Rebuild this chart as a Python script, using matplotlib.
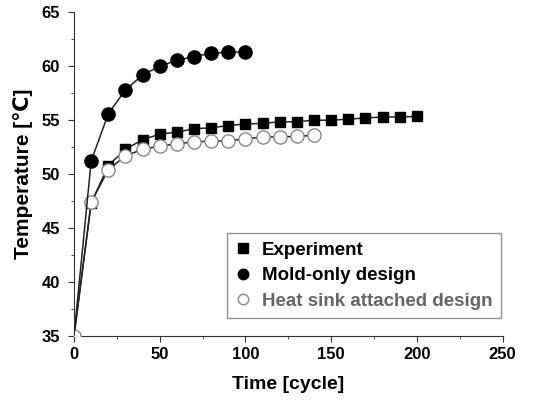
import matplotlib
matplotlib.use('Agg')
import matplotlib.pyplot as plt
from matplotlib.ticker import MultipleLocator

plt.rcParams['font.family'] = ['Liberation Sans', 'DejaVu Sans']
plt.rcParams['font.weight'] = 'bold'

# data (first point is the common start at t=0)
exp_x = [0, 10, 20, 30, 40, 50, 60, 70, 80, 90, 100, 110, 120, 130, 140,
         150, 160, 170, 180, 190, 200]
exp_y = [35.0, 47.3, 50.8, 52.3, 53.2, 53.7, 53.9, 54.2, 54.3, 54.5, 54.65,
         54.7, 54.85, 54.85, 55.0, 55.0, 55.1, 55.2, 55.3, 55.3, 55.35]

mold_x = [0, 10, 20, 30, 40, 50, 60, 70, 80, 90, 100]
mold_y = [35.0, 51.2, 55.6, 57.8, 59.2, 60.0, 60.55, 60.9, 61.2, 61.3, 61.35]

sink_x = [0, 10, 20, 30, 40, 50, 60, 70, 80, 90, 100, 110, 120, 130, 140]
sink_y = [35.0, 47.4, 50.4, 51.7, 52.3, 52.6, 52.8, 53.0, 53.05, 53.1, 53.25,
          53.45, 53.45, 53.5, 53.6]

labels = ['Experiment', 'Mold-only design', 'Heat sink attached design']

fig = plt.figure(figsize=(5.34, 4.03), dpi=100)
ax = fig.add_axes([0.1386, 0.1663, 0.8027, 0.8032])

line_col = '#222222'
ax.plot(exp_x, exp_y, color=line_col, lw=1.1, marker='s', ms=7.5,
        mfc='black', mec='black', markevery=slice(1, None), label=labels[0], zorder=2)
ax.plot(sink_x, sink_y, color=line_col, lw=1.1, marker='o', ms=9.5,
        mfc='white', mec='#888888', mew=1.0, label=labels[2], zorder=3)
ax.plot(mold_x, mold_y, color=line_col, lw=1.1, marker='o', ms=9.5,
        mfc='black', mec='black', markevery=slice(1, None), label=labels[1], zorder=3)

ax.set_xlim(0, 250)
ax.set_ylim(35, 65)
ax.xaxis.set_major_locator(MultipleLocator(50))
ax.xaxis.set_minor_locator(MultipleLocator(25))
ax.yaxis.set_major_locator(MultipleLocator(5))
ax.yaxis.set_minor_locator(MultipleLocator(2.5))
ax.spines['top'].set_visible(False)
ax.spines['right'].set_visible(False)
for s in ['left', 'bottom']:
    ax.spines[s].set_color('#333333')
ax.tick_params(which='major', direction='out', length=4, labelsize=12,
               color='#333333', pad=4)
ax.tick_params(axis='y', which='major', pad=6)
ax.tick_params(which='minor', direction='out', length=2.5, color='#333333')
for lab in ax.get_xticklabels() + ax.get_yticklabels():
    lab.set_fontweight('bold')

ax.set_xlabel('Time [cycle]', fontsize=14, fontweight='bold', labelpad=10)
ax.set_ylabel('Temperature [\u2103]', fontsize=15, fontweight='bold', labelpad=6)

h, l = ax.get_legend_handles_labels()
order = [0, 2, 1]
leg = ax.legend([h[i] for i in order], [l[i] for i in order],
                loc='lower right', bbox_to_anchor=(0.995, 0.055),
                frameon=True, fancybox=False,
                handlelength=0.8, handletextpad=0.6, borderpad=0.45,
                labelspacing=0.45, borderaxespad=0.0,
                prop={'weight': 'bold', 'size': 13.5})
leg.get_frame().set_edgecolor('#777777')
leg.get_frame().set_linewidth(1.0)
for hd in leg.legend_handles:
    hd.set_linestyle('None')
    hd.set_markersize(7.5)
leg.get_texts()[2].set_color('#666666')

fig.savefig('out.png', dpi=100)
